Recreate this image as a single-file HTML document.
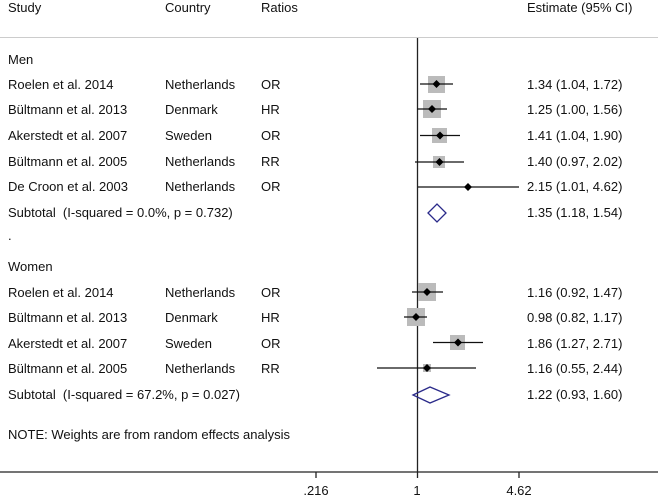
<!DOCTYPE html>
<html><head><meta charset="utf-8"><style>
html,body{margin:0;padding:0;background:#fff;}
svg text{font-family:"Liberation Sans",Arial,sans-serif;font-size:13px;fill:#111;white-space:pre;}
</style></head><body>
<svg width="658" height="497" viewBox="0 0 658 497" xmlns="http://www.w3.org/2000/svg">
<text x="8" y="12">Study</text>
<text x="165" y="12">Country</text>
<text x="261" y="12">Ratios</text>
<text x="527" y="12">Estimate (95% CI)</text>
<line x1="0" y1="37.5" x2="658" y2="37.5" stroke="#ccc" stroke-width="1"/>
<line x1="417.5" y1="38" x2="417.5" y2="472" stroke="#222" stroke-width="1.3"/>
<line x1="0" y1="472" x2="658" y2="472" stroke="#222" stroke-width="1.3"/>
<line x1="316" y1="472" x2="316" y2="478" stroke="#222" stroke-width="1.3"/>
<line x1="417.5" y1="472" x2="417.5" y2="478" stroke="#222" stroke-width="1.3"/>
<line x1="519" y1="472" x2="519" y2="478" stroke="#222" stroke-width="1.3"/>
<text x="316" y="495" text-anchor="middle">.216</text>
<text x="417" y="495" text-anchor="middle">1</text>
<text x="519" y="495" text-anchor="middle">4.62</text>

<text x="8" y="64">Men</text>
<g>
<text x="8" y="89">Roelen et al. 2014</text><text x="165" y="89">Netherlands</text><text x="261" y="89">OR</text><text x="527" y="89">1.34 (1.04, 1.72)</text>
<text x="8" y="114">Bültmann et al. 2013</text><text x="165" y="114">Denmark</text><text x="261" y="114">HR</text><text x="527" y="114">1.25 (1.00, 1.56)</text>
<text x="8" y="140">Akerstedt et al. 2007</text><text x="165" y="140">Sweden</text><text x="261" y="140">OR</text><text x="527" y="140">1.41 (1.04, 1.90)</text>
<text x="8" y="166">Bültmann et al. 2005</text><text x="165" y="166">Netherlands</text><text x="261" y="166">RR</text><text x="527" y="166">1.40 (0.97, 2.02)</text>
<text x="8" y="191">De Croon et al. 2003</text><text x="165" y="191">Netherlands</text><text x="261" y="191">OR</text><text x="527" y="191">2.15 (1.01, 4.62)</text>
<text x="8" y="217">Subtotal  (I-squared = 0.0%, p = 0.732)</text><text x="527" y="217">1.35 (1.18, 1.54)</text>
<text x="8" y="240">.</text>
<text x="8" y="271">Women</text>
<text x="8" y="297">Roelen et al. 2014</text><text x="165" y="297">Netherlands</text><text x="261" y="297">OR</text><text x="527" y="297">1.16 (0.92, 1.47)</text>
<text x="8" y="322">Bültmann et al. 2013</text><text x="165" y="322">Denmark</text><text x="261" y="322">HR</text><text x="527" y="322">0.98 (0.82, 1.17)</text>
<text x="8" y="348">Akerstedt et al. 2007</text><text x="165" y="348">Sweden</text><text x="261" y="348">OR</text><text x="527" y="348">1.86 (1.27, 2.71)</text>
<text x="8" y="373">Bültmann et al. 2005</text><text x="165" y="373">Netherlands</text><text x="261" y="373">RR</text><text x="527" y="373">1.16 (0.55, 2.44)</text>
<text x="8" y="399">Subtotal  (I-squared = 67.2%, p = 0.027)</text><text x="527" y="399">1.22 (0.93, 1.60)</text>
<text x="8" y="439">NOTE: Weights are from random effects analysis</text>
</g>

<g fill="#bbb">
<rect x="428" y="76" width="17" height="17"/>
<rect x="423" y="100" width="18" height="18"/>
<rect x="432" y="128" width="15" height="15"/>
<rect x="433" y="156" width="12" height="12"/>
<rect x="418" y="283" width="18" height="18"/>
<rect x="407" y="308" width="18" height="18"/>
<rect x="450" y="335" width="15" height="15"/>
<rect x="423" y="364" width="8" height="8"/>
</g>
<g stroke="#111" stroke-width="1.3">
<line x1="420" y1="84" x2="453" y2="84"/>
<line x1="417" y1="109" x2="447" y2="109"/>
<line x1="420" y1="135.5" x2="460" y2="135.5"/>
<line x1="415" y1="162" x2="464" y2="162"/>
<line x1="418" y1="187" x2="519" y2="187"/>
<line x1="412" y1="292" x2="443" y2="292"/>
<line x1="404" y1="317" x2="427" y2="317"/>
<line x1="433" y1="342.5" x2="483" y2="342.5"/>
<line x1="377" y1="368" x2="476" y2="368"/>
</g>
<g fill="#000">
<polygon points="436.5,80 440.5,84 436.5,88 432.5,84"/>
<polygon points="432,105 436,109 432,113 428,109"/>
<polygon points="440,131.5 444,135.5 440,139.5 436,135.5"/>
<polygon points="439.5,158 443.5,162 439.5,166 435.5,162"/>
<polygon points="468,183 472,187 468,191 464,187"/>
<polygon points="427,288 431,292 427,296 423,292"/>
<polygon points="416,313 420,317 416,321 412,317"/>
<polygon points="458,338.5 462,342.5 458,346.5 454,342.5"/>
<polygon points="427,364 431,368 427,372 423,368"/>
</g>
<g fill="none" stroke="#2a2a8a" stroke-width="1.3">
<polygon points="428,213 437,204 446,213 437,222"/>
<polygon points="413,395 430,387 449,395 430,403"/>
</g>
</svg>
</body></html>
